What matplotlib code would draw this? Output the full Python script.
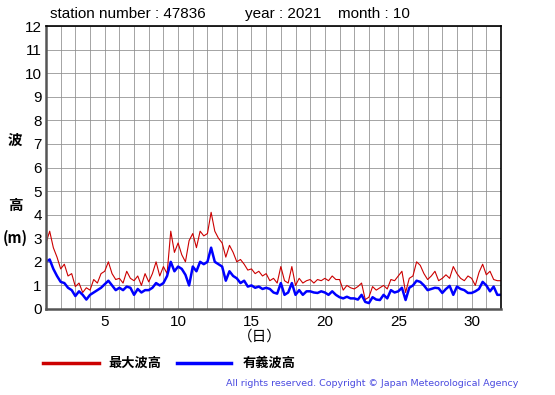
import numpy as np
import matplotlib.pyplot as plt
from matplotlib.lines import Line2D

plt.rcParams['font.family'] = ['Liberation Sans', 'DejaVu Sans']

# 6-hourly values, day 1.00 .. 32.00
max_wave = [
    2.8, 3.3, 2.6, 2.2,
    1.7, 1.9, 1.4, 1.5,
    0.95, 1.1, 0.7, 0.9,
    0.8, 1.25, 1.1, 1.5,
    1.6, 2.0, 1.5, 1.25,
    1.3, 1.1, 1.6, 1.3,
    1.2, 1.4, 1.0, 1.5,
    1.15, 1.5, 2.0, 1.4,
    1.8, 1.5, 3.3, 2.4,
    2.8, 2.3, 2.0, 2.9,
    3.2, 2.6, 3.3, 3.1,
    3.2, 4.1, 3.3, 3.0,
    2.8, 2.2, 2.7, 2.4,
    2.0, 2.1, 1.9, 1.65,
    1.7, 1.5, 1.6, 1.4,
    1.5, 1.2, 1.3, 1.1,
    1.8, 1.2, 1.1, 1.8,
    1.0, 1.3, 1.1, 1.2,
    1.25, 1.1, 1.25, 1.2,
    1.3, 1.2, 1.4, 1.25,
    1.25, 0.8, 1.0, 0.9,
    0.85, 0.95, 1.1, 0.4,
    0.5, 0.95, 0.8, 0.9,
    1.0, 0.85, 1.25, 1.2,
    1.4, 1.6, 0.7, 1.3,
    1.4, 2.0, 1.85, 1.5,
    1.25, 1.4, 1.6, 1.2,
    1.3, 1.45, 1.3, 1.8,
    1.5, 1.3, 1.2, 1.4,
    1.3, 1.0, 1.55, 1.9,
    1.45, 1.6, 1.25, 1.2,
    1.2,
]

sig_wave = [
    2.0, 2.1, 1.7, 1.4,
    1.15, 1.1, 0.9, 0.8,
    0.55, 0.75, 0.6, 0.4,
    0.6, 0.7, 0.8, 0.9,
    1.05, 1.2, 1.0, 0.8,
    0.9, 0.8, 0.95, 0.9,
    0.6, 0.85, 0.7, 0.8,
    0.8, 0.9, 1.1, 1.0,
    1.1, 1.4, 2.0, 1.6,
    1.8, 1.7, 1.45, 1.0,
    1.8, 1.6, 2.0, 1.9,
    2.0, 2.6, 2.0, 1.9,
    1.8, 1.2, 1.6, 1.4,
    1.3, 1.1, 1.2, 0.95,
    1.0, 0.9, 0.95, 0.85,
    0.9, 0.85, 0.7, 0.65,
    1.1, 0.6, 0.7, 1.1,
    0.6, 0.8, 0.6, 0.75,
    0.75, 0.7, 0.68, 0.75,
    0.7, 0.6, 0.75, 0.6,
    0.5, 0.45, 0.52, 0.45,
    0.45, 0.4, 0.6, 0.3,
    0.25, 0.5, 0.4, 0.38,
    0.6, 0.45, 0.8, 0.7,
    0.75, 0.9, 0.38, 0.9,
    1.0, 1.2, 1.15, 1.0,
    0.8, 0.85, 0.9, 0.88,
    0.68, 0.85, 0.98, 0.6,
    0.95, 0.85, 0.8, 0.68,
    0.68, 0.75, 0.85, 1.15,
    1.0, 0.75, 0.95, 0.6,
    0.6,
]

days = 1 + np.arange(len(max_wave)) / 4.0

x_ticks = [5, 10, 15, 20, 25, 30]
y_ticks = list(range(0, 13))

fig = plt.figure(figsize=(5.55, 3.95), dpi=100)
ax = fig.add_axes([46 / 555, 86 / 395, 455 / 555, 283 / 395])

ax.plot(days, max_wave, color='#cc0000', lw=0.8)
ax.plot(days, sig_wave, color='#0000ff', lw=1.8)

ax.set_xlim(1, 32)
ax.set_ylim(0, 12)
ax.set_xticks(np.arange(1, 33), minor=True)
ax.set_xticks(x_ticks)
ax.set_yticks(y_ticks)
ax.grid(True, which='both', color='#8c8c8c', lw=0.55)
ax.tick_params(which='both', length=0, labelsize=11, pad=3)
ax.tick_params(axis='x', pad=4)
for s in ['left', 'bottom']:
    ax.spines[s].set_linewidth(1.8)
    ax.spines[s].set_color('#555555')
for s in ['top', 'right']:
    ax.spines[s].set_linewidth(1.2)

title_y = 1 - 14 / 395
fig.text(50 / 555, title_y, 'station number : 47836', fontsize=11, va='center')
fig.text(245 / 555, title_y, 'year : 2021', fontsize=11, va='center')
fig.text(338 / 555, title_y, 'month : 10', fontsize=11, va='center')

cjk = ['Noto Sans CJK JP', 'DejaVu Sans']
fig.text(15 / 555, 1 - 140 / 395, '波', family=cjk, fontsize=10.5,
         fontweight='bold', ha='center', va='center')
fig.text(15 / 555, 1 - 205 / 395, '高', family=cjk, fontsize=10.5,
         fontweight='bold', ha='center', va='center')
fig.text(15 / 555, 1 - 238 / 395, '(m)', family=cjk, fontsize=10.5,
         fontweight='bold', ha='center', va='center')
fig.text(260 / 555, 1 - 337 / 395, '（日）', family=cjk, fontsize=10.5,
         ha='center', va='center')

# legend
fig.add_artist(Line2D([43 / 555, 99 / 555], [1 - 363 / 395] * 2,
                      color='#cc0000', lw=2.5))
fig.text(108 / 555, 1 - 363 / 395, '最大波高', family=cjk, fontsize=9.5,
         fontweight='bold', va='center')
fig.add_artist(Line2D([177 / 555, 231 / 555], [1 - 363 / 395] * 2,
                      color='#0000ff', lw=2.5))
fig.text(243 / 555, 1 - 363 / 395, '有義波高', family=cjk, fontsize=9.5,
         fontweight='bold', va='center')

fig.text(226 / 555, 1 - 384 / 395,
         'All rights reserved. Copyright © Japan Meteorological Agency',
         family=['DejaVu Sans'], color='#4a4ae0', fontsize=6.8,
         ha='left', va='center')

fig.savefig('out.png', dpi=100)
